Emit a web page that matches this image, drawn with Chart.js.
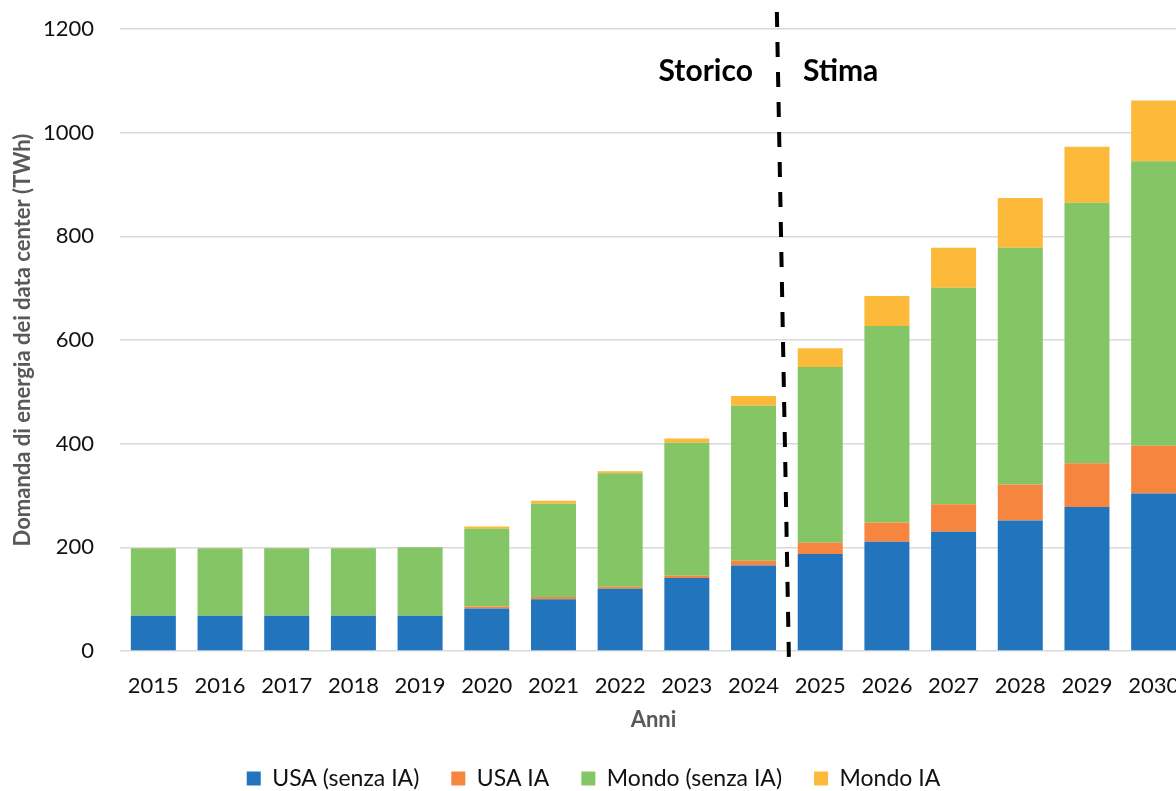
<!DOCTYPE html>
<html>
<head>
<meta charset="utf-8">
<script src="https://cdn.jsdelivr.net/npm/chart.js@4"></script>
<style>
  html, body { margin: 0; padding: 0; background: #fff; overflow: hidden; }
  #chart { display: block; }
</style>
</head>
<body>
<canvas id="chart" width="1200" height="800"></canvas>
<script>
// anni e valori (TWh)
const years = ['2015', '2016', '2017', '2018', '2019', '2020', '2021', '2022',
  '2023', '2024', '2025', '2026', '2027', '2028', '2029', '2030'];
const usaNoAI = [68, 68, 68, 68, 68, 82, 100, 120, 141, 165, 187, 211, 230, 252, 278, 304];
const usaAI = [0, 0, 0, 0, 0, 4, 4, 4, 4, 9, 22, 37, 53, 69, 84, 92];
const worldNoAI = [130, 130, 130, 130, 132, 150, 180, 219, 257, 299, 339, 379, 418, 457, 503, 549];
const worldAI = [0, 0, 0, 0, 0, 4, 6, 4, 8, 19, 36, 58, 77, 96, 108, 117];
const yTicks = [0, 200, 400, 600, 800, 1000, 1200];
const lastHistoric = '2024';

const FONT = 'Lato, "Open Sans", sans-serif';

// linea tratteggiata tra storico e stima
const splitLine = {
    id: 'splitLine',
    afterDatasetsDraw: function (chart) {
        const ctx = chart.ctx;
        const x = chart.scales.x;
        const area = chart.chartArea;
        const i = years.indexOf(lastHistoric);
        const mid = (x.getPixelForValue(i) + x.getPixelForValue(i + 1)) / 2;
        ctx.save();
        ctx.strokeStyle = '#000';
        ctx.lineWidth = 4;
        ctx.setLineDash([15, 15]);
        ctx.beginPath();
        ctx.moveTo(mid - 10, area.top - 17);
        ctx.lineTo(mid + 2, area.bottom + 6);
        ctx.stroke();
        ctx.setLineDash([]);
        ctx.fillStyle = '#000';
        ctx.font = 'bold 30px ' + FONT;
        ctx.textBaseline = 'alphabetic';
        ctx.textAlign = 'right';
        ctx.fillText('Storico', mid - 34, area.top + 52);
        ctx.textAlign = 'left';
        ctx.fillText('Stima', mid + 16, area.top + 52);
        ctx.restore();
    }
};

let chartDraw = function () {
    let painter = document.getElementById('chart').getContext('2d');
    window.energyChart = new Chart(painter, {
        type: 'bar',
        data: {
            labels: years,
            datasets: [
                { label: 'USA (senza IA)', data: usaNoAI, backgroundColor: 'rgb(34, 117, 189)' },
                { label: 'USA IA', data: usaAI, backgroundColor: 'rgb(245, 133, 63)' },
                { label: 'Mondo (senza IA)', data: worldNoAI, backgroundColor: 'rgb(132, 197, 102)' },
                { label: 'Mondo IA', data: worldAI, backgroundColor: 'rgb(253, 185, 58)' }
            ]
        },
        options: {
            responsive: false,
            animation: false,
            categoryPercentage: 1,
            barPercentage: 0.675,
            layout: { padding: { top: 29, right: 13, left: 0, bottom: 0 } },
            scales: {
                x: {
                    stacked: true,
                    grid: { display: false },
                    border: { display: false },
                    ticks: { color: '#111', font: { family: FONT, size: 22 }, padding: 14, maxRotation: 0 },
                    title: {
                        display: true,
                        text: 'Anni',
                        color: '#595959',
                        font: { family: FONT, size: 22, weight: 'bold' },
                        padding: { top: 0, bottom: 2 }
                    },
                    afterFit: function (scale) { scale.height = 84; }
                },
                y: {
                    stacked: true,
                    min: 0,
                    max: 1200,
                    afterBuildTicks: function (scale) {
                        scale.ticks = yTicks.map(function (v) { return { value: v }; });
                    },
                    grid: { color: '#d9d9d9', lineWidth: 1.5, drawTicks: false },
                    border: { display: false },
                    ticks: {
                        color: '#111',
                        font: { family: FONT, size: 22 },
                        padding: 26,
                        callback: function (v) { return String(v); }
                    },
                    title: {
                        display: true,
                        text: 'Domanda di energia dei data center (TWh)',
                        color: '#595959',
                        font: { family: FONT, size: 22, weight: 'bold' },
                        padding: { top: 10, bottom: 0 }
                    },
                    afterFit: function (scale) {
                        scale.width = 120;
                        scale.paddingTop = 0;
                        scale.paddingBottom = 0;
                    }
                }
            },
            plugins: {
                legend: {
                    display: true,
                    position: 'bottom',
                    labels: {
                        color: '#111',
                        font: { family: FONT, size: 23 },
                        boxWidth: 14,
                        boxHeight: 14,
                        padding: 32
                    }
                },
                tooltip: { enabled: false }
            }
        },
        plugins: [splitLine]
    });
};

window.onload = function () {
    chartDraw();
};
</script>
</body>
</html>
